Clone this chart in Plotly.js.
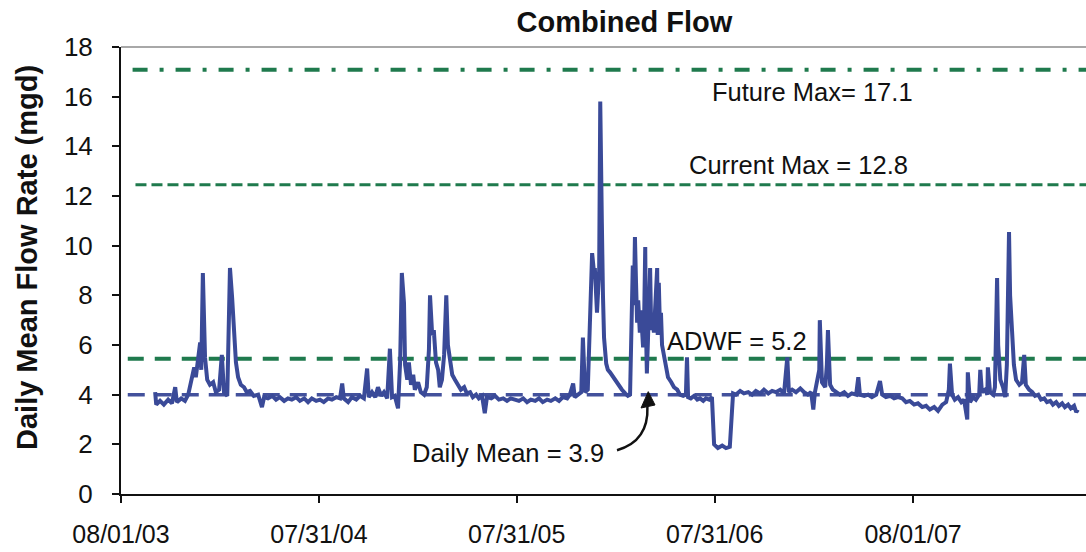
<!DOCTYPE html>
<html>
<head>
<meta charset="utf-8">
<script src="https://cdn.plot.ly/plotly-3.0.1.min.js"></script>
<style>html,body{margin:0;padding:0;background:#fff;}#chart{width:1086px;height:552px;}</style>
</head>
<body>
<div id="chart"></div>
<script>
// ---- data ----
const recordStart = '2003-08-01';
// days since 08/01/03
const dayOffset = [63,65,72,79,87,94,100,103,111,118,124,127,131,135,138,142,146,148,151,155,159,164,170,175,181,186,190,196,201,205,208,212,216,221,227,232,238,245,253,260,264,271,279,286,293,301,308,315,323,330,338,345,352,360,367,374,382,389,397,404,408,411,419,426,434,441,448,454,457,463,469,474,480,485,491,496,500,505,511,515,518,522,524,528,531,535,539,542,548,553,559,564,568,570,574,577,581,585,588,592,596,600,603,607,611,616,622,627,633,638,644,649,655,660,666,671,675,683,690,697,705,712,719,727,734,742,749,756,764,771,778,786,793,801,808,815,823,828,834,837,843,849,852,856,861,865,869,873,874,878,882,884,885,887,889,891,895,898,902,908,913,919,924,930,935,939,943,944,946,948,950,952,954,957,959,961,963,965,967,968,970,972,974,976,978,980,983,985,987,989,990,992,994,996,998,1002,1005,1009,1015,1020,1026,1031,1037,1042,1044,1046,1051,1057,1063,1068,1074,1079,1085,1090,1094,1101,1109,1116,1123,1129,1134,1142,1149,1157,1164,1171,1179,1186,1194,1201,1208,1216,1223,1229,1232,1238,1245,1253,1260,1267,1273,1277,1280,1284,1288,1289,1293,1299,1302,1304,1308,1313,1319,1326,1334,1341,1348,1356,1360,1363,1371,1378,1385,1393,1400,1404,1411,1419,1426,1433,1441,1448,1455,1463,1470,1478,1485,1492,1500,1507,1515,1522,1527,1529,1533,1538,1544,1550,1555,1561,1562,1566,1572,1577,1583,1585,1588,1594,1598,1599,1603,1609,1612,1616,1618,1622,1627,1631,1634,1638,1640,1644,1647,1651,1657,1662,1666,1669,1675,1681,1686,1692,1697,1703,1708,1714,1719,1725,1730,1736,1741,1747,1752,1758,1762,1765];
// daily mean flow, mgd
const flowMgd = [4.1,3.6,3.75,3.6,3.8,3.65,4.3,3.7,3.85,3.75,4.0,4.3,4.6,5.1,4.7,5.3,6.1,5.0,8.9,5.5,4.6,4.4,4.5,4.1,4.2,5.6,4.1,3.95,9.1,7.9,6.5,5.3,4.7,4.4,4.3,4.1,4.15,3.95,4.0,3.5,3.9,3.85,3.95,3.8,3.9,3.75,3.85,3.8,3.9,3.75,3.85,3.7,3.85,3.75,3.8,3.7,3.85,3.8,3.9,3.85,4.45,3.85,3.7,3.9,3.8,3.95,3.85,5.05,3.9,4.1,3.9,4.3,3.95,4.1,3.85,5.85,3.9,3.95,3.45,5.4,8.9,7.7,5.2,4.6,5.3,4.4,4.8,4.2,4.5,4.1,4.0,4.3,5.8,8.0,6.4,6.6,5.3,5.0,4.3,4.6,5.6,8.0,6.0,5.4,4.8,4.6,4.4,4.2,4.3,4.05,4.1,3.9,4.0,3.85,3.95,3.25,3.9,3.85,3.95,3.8,3.85,3.75,3.85,3.8,3.75,3.85,3.7,3.8,3.75,3.85,3.7,3.8,3.75,3.85,3.75,3.9,3.85,4.0,4.45,3.9,4.0,4.1,6.3,4.1,4.2,6.5,9.7,8.8,9.1,7.3,9.0,15.8,13.0,10.9,8.0,6.3,5.25,5.0,4.9,4.7,4.5,4.3,4.2,4.05,3.95,4.0,8.0,9.2,7.6,10.35,8.5,6.9,7.8,6.5,7.4,6.8,5.9,7.1,9.95,7.0,4.85,6.2,7.5,9.1,6.6,7.2,6.5,7.7,8.0,9.1,6.4,8.5,6.8,7.3,6.0,5.5,5.0,4.7,4.5,4.3,4.2,4.0,3.95,4.0,5.5,3.9,3.85,3.95,3.8,3.85,3.75,3.85,3.8,3.9,2.0,1.85,1.95,1.85,1.9,4.05,4.0,4.15,4.05,4.1,4.0,4.15,4.05,4.2,4.05,4.15,4.1,4.2,4.05,5.5,4.1,4.2,4.1,4.25,4.1,4.0,4.1,3.4,4.1,4.5,5.0,7.0,4.5,4.3,5.2,6.6,4.4,4.2,4.1,4.0,4.1,3.95,4.05,4.0,4.7,4.0,3.95,4.0,3.9,4.0,4.55,4.0,3.9,3.95,3.85,3.9,3.85,3.7,3.75,3.6,3.65,3.5,3.55,3.4,3.5,3.35,3.6,3.7,4.2,5.25,4.0,3.8,3.9,3.7,3.8,3.0,4.9,3.7,3.9,3.8,4.0,5.0,4.1,4.2,4.0,5.1,4.1,4.0,4.3,8.7,6.0,4.6,4.3,3.9,5.2,10.55,8.0,6.05,5.2,4.6,4.4,4.5,5.6,4.4,4.2,4.1,3.95,4.0,3.8,3.85,3.7,3.75,3.6,3.7,3.55,3.65,3.5,3.6,3.45,3.55,3.3,3.4];

// reference levels (as drawn) and their labels
const refNames  = ['Future Max', 'Current Max', 'ADWF', 'Daily Mean'];
const refLevels = [17.08, 12.45, 5.45, 4.0];
const refLabels = ['Future Max= 17.1', 'Current Max = 12.8', 'ADWF = 5.2', 'Daily Mean = 3.9'];

// x-axis ticks
const tickDates  = ['2003-08-01', '2004-07-31', '2005-07-31', '2006-07-31', '2007-08-01'];
const tickLabels = ['08/01/03', '07/31/04', '07/31/05', '07/31/06', '08/01/07'];
const yTicks = [0, 2, 4, 6, 8, 10, 12, 14, 16, 18];

// ---- build ----
const t0 = Date.UTC(2003, 7, 1);
const dates = dayOffset.map(d => new Date(t0 + d * 86400000).toISOString().slice(0, 10));

const FONT = 'Liberation Sans, Arial, Helvetica, sans-serif';
const GREEN = '#1f7a4d';
const BLUE = '#3a4a98';

const refStyles = [
  {color: GREEN, width: 4, dash: '15px,12px,4px,12px', x0: 0.012},
  {color: GREEN, width: 3, dash: '11px,5px', x0: 0.015},
  {color: GREEN, width: 4, dash: '16px,11px', x0: 0.007},
  {color: '#43519c', width: 3.5, dash: '17px,10px', x0: 0.007}
];

const shapes = refLevels.map((v, i) => ({
  type: 'line', layer: 'below', xref: 'paper', yref: 'y',
  x0: refStyles[i].x0, x1: 1, y0: v, y1: v,
  line: {color: refStyles[i].color, width: refStyles[i].width, dash: refStyles[i].dash}
}));
// grey top border of plot area
shapes.push({type: 'line', xref: 'paper', yref: 'paper', x0: 0, x1: 1, y0: 1, y1: 1,
  line: {color: '#a8a8a8', width: 2}});
// curved arrow for the Daily Mean label
shapes.push({type: 'path', xref: 'paper', yref: 'paper',
  path: 'M 0.514 0.098 Q 0.547 0.118 0.5455 0.196',
  line: {color: '#111', width: 2.5}});
shapes.push({type: 'path', xref: 'paper', yref: 'paper',
  path: 'M 0.5464 0.229 L 0.5389 0.1924 L 0.5534 0.1991 Z',
  fillcolor: '#111', line: {color: '#111', width: 1}});

const labelPos = [
  {x: 0.717, y: 16.17},
  {x: 0.7016, y: 13.23},
  {x: 0.638, y: 6.18},
  {x: 0.401, y: 1.65}
];
const annotations = refLabels.map((t, i) => ({
  text: t, xref: 'paper', yref: 'y', x: labelPos[i].x, y: labelPos[i].y,
  xanchor: 'center', yanchor: 'middle', showarrow: false,
  font: {family: FONT, size: 25.5, color: '#111'}
}));
annotations.push({
  text: '<b>Daily Mean Flow Rate (mgd)</b>', textangle: -90,
  xref: 'paper', yref: 'paper', x: -0.0975, y: 0.53,
  xanchor: 'center', yanchor: 'middle', showarrow: false,
  font: {family: FONT, size: 29, color: '#111'}
});

const trace = {
  type: 'scatter', mode: 'lines', x: dates, y: flowMgd, name: 'Combined Flow',
  line: {color: BLUE, width: 4, shape: 'linear'}, hoverinfo: 'skip'
};

const layout = {
  width: 1086, height: 552,
  margin: {l: 121, r: 0, t: 47, b: 58, pad: 0},
  paper_bgcolor: '#fff', plot_bgcolor: '#fff',
  showlegend: false,
  font: {family: FONT, color: '#111', size: 26},
  title: {text: '<b>Combined Flow</b>', font: {family: FONT, size: 29, color: '#111'},
    x: 0.575, xanchor: 'center', y: 0.96, yanchor: 'middle'},
  xaxis: {
    type: 'date', range: ['2003-08-01', '2008-06-15'],
    tickmode: 'array', tickvals: tickDates, ticktext: tickLabels,
    ticks: 'outside', ticklen: 7, tickwidth: 2, tickcolor: '#111',
    showline: true, linecolor: '#111', linewidth: 2,
    showgrid: false, zeroline: false,
    tickfont: {family: FONT, size: 25, color: '#111'}, ticklabelstandoff: 10
  },
  yaxis: {
    range: [0, 18], tickmode: 'array', tickvals: yTicks,
    ticks: 'outside', ticklen: 7, tickwidth: 2, tickcolor: '#111',
    showline: true, linecolor: '#111', linewidth: 2,
    showgrid: false, zeroline: false,
    tickfont: {family: FONT, size: 26, color: '#111'}, ticklabelstandoff: 14
  },
  shapes: shapes,
  annotations: annotations
};

Plotly.newPlot('chart', [trace], layout, {staticPlot: true, displayModeBar: false});
</script>
</body>
</html>
